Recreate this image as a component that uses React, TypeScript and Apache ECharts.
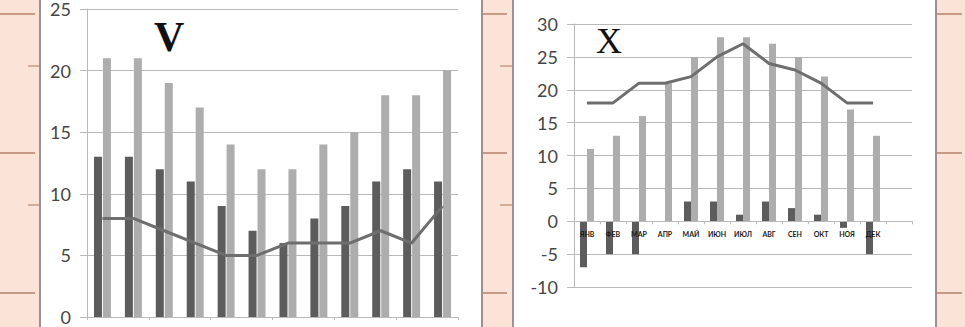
import React, { useEffect, useRef } from "react";
import * as echarts from "echarts";

const months = ["ЯНВ", "ФЕВ", "МАР", "АПР", "МАЙ", "ИЮН", "ИЮЛ", "АВГ", "СЕН", "ОКТ", "НОЯ", "ДЕК"];
const monthsX = [...months, ""];

const vDark = [13, 13, 12, 11, 9, 7, 6, 8, 9, 11, 12, 11];
const vLight = [21, 21, 19, 17, 14, 12, 12, 14, 15, 18, 18, 20];
const vLine = [8, 8, 7, 6, 5, 5, 6, 6, 6, 7, 6, 9];

const xDark = [-7, -5, -5, 0, 3, 3, 1, 3, 2, 1, -1, -5];
const xLight = [11, 13, 16, 21, 25, 28, 28, 27, 25, 22, 17, 13];
const xLine = [18, 18, 21, 21, 22, 25, 27, 24, 23, 21, 18, 18];

const DARK = "#5c5c5c";
const LIGHT = "#adadad";
const LINE = "#6e6e6e";
const GRID = "#b9b9b9";
const LABEL = "#454545";
const PINK = "#fce3d7";
const BORDER = "#9c9090";
const MARK = "#c79a86";

export default function App() {
  const ref = useRef<HTMLDivElement>(null);
  useEffect(() => {
    if (!ref.current) return;
    const chart = echarts.init(ref.current, null, { renderer: "svg" });

    const marks: any[] = [];
    const longY = [14, 153, 293];
    const shortY = [66, 205];
    longY.forEach((y) => {
      marks.push({ type: "line", z: -5, shape: { x1: 0, y1: y, x2: 35, y2: y }, style: { stroke: MARK, lineWidth: 2 } });
      marks.push({ type: "line", z: -5, shape: { x1: 482, y1: y, x2: 507, y2: y }, style: { stroke: MARK, lineWidth: 2 } });
      marks.push({ type: "line", z: -5, shape: { x1: 937, y1: y, x2: 962, y2: y }, style: { stroke: MARK, lineWidth: 2 } });
    });
    shortY.forEach((y) => {
      marks.push({ type: "line", z: -5, shape: { x1: 28, y1: y, x2: 40, y2: y }, style: { stroke: MARK, lineWidth: 1.5 } });
      marks.push({ type: "line", z: -5, shape: { x1: 500, y1: y, x2: 513, y2: y }, style: { stroke: MARK, lineWidth: 1.5 } });
    });

    const valueAxisCommon = {
      type: "value",
      interval: 5,
      axisLine: { show: true, lineStyle: { color: GRID, width: 1 } },
      axisTick: { show: true, length: 7, lineStyle: { color: GRID } },
      splitLine: { show: true, lineStyle: { color: GRID, width: 1 } },
      axisLabel: { fontFamily: "Lato, 'Open Sans', sans-serif", fontSize: 18, color: LABEL, margin: 16 },
    };

    // right grid geometry: top 24, bottom 40 -> plot height 263; zero sits 30/40 down
    const rTop = 24;
    const rBottom = 40;
    const rHeight = 327 - rTop - rBottom;
    const zeroOffset = -(rHeight * 10) / 40;

    chart.setOption({
      animation: false,
      backgroundColor: PINK,
      graphic: [
        { type: "rect", z: -10, shape: { x: 40, y: 0, width: 442, height: 327 }, style: { fill: "#ffffff" } },
        { type: "rect", z: -10, shape: { x: 514, y: 0, width: 422, height: 327 }, style: { fill: "#ffffff" } },
        { type: "line", z: -4, shape: { x1: 40, y1: 0, x2: 40, y2: 327 }, style: { stroke: BORDER, lineWidth: 2 } },
        { type: "line", z: -4, shape: { x1: 482, y1: 0, x2: 482, y2: 327 }, style: { stroke: BORDER, lineWidth: 2 } },
        { type: "line", z: -4, shape: { x1: 513, y1: 0, x2: 513, y2: 327 }, style: { stroke: BORDER, lineWidth: 2 } },
        { type: "line", z: -4, shape: { x1: 936, y1: 0, x2: 936, y2: 327 }, style: { stroke: BORDER, lineWidth: 2 } },
        ...marks,
        {
          type: "text",
          z: 100,
          x: 154,
          y: 16,
          style: { text: "V", font: "bold 42px 'Liberation Serif', serif", fill: "#111" },
        },
        {
          type: "text",
          z: 100,
          x: 596,
          y: 23,
          style: { text: "X", font: "36px 'Liberation Serif', serif", fill: "#111" },
        },
      ],
      grid: [
        { left: 87, right: 507, top: 9, bottom: 10 },
        { left: 574, right: 53, top: rTop, bottom: rBottom },
      ],
      xAxis: [
        {
          type: "category",
          gridIndex: 0,
          data: months,
          axisLine: { show: true, lineStyle: { color: GRID } },
          axisTick: { show: true, length: 3, lineStyle: { color: GRID } },
          axisLabel: { show: false },
        },
        {
          type: "category",
          gridIndex: 1,
          data: monthsX,
          z: 10,
          offset: zeroOffset,
          axisLine: { show: true, onZero: false, lineStyle: { color: GRID } },
          axisTick: { show: true, length: 3, lineStyle: { color: GRID } },
          axisLabel: { fontFamily: "Lato, sans-serif", fontSize: 7, fontWeight: "bold", color: "#1a1a1a", margin: 9, interval: 0 },
        },
      ],
      yAxis: [
        { ...valueAxisCommon, gridIndex: 0, min: 0, max: 25 },
        { ...valueAxisCommon, gridIndex: 1, min: -10, max: 30 },
      ],
      series: [
        { type: "bar", xAxisIndex: 0, yAxisIndex: 0, data: vDark, barWidth: 8, barGap: "12%", itemStyle: { color: DARK } },
        { type: "bar", xAxisIndex: 0, yAxisIndex: 0, data: vLight, barWidth: 8, barGap: "12%", itemStyle: { color: LIGHT } },
        {
          type: "line",
          xAxisIndex: 0,
          yAxisIndex: 0,
          data: vLine,
          symbol: "none",
          lineStyle: { color: LINE, width: 3 },
          z: 5,
        },
        { type: "bar", xAxisIndex: 1, yAxisIndex: 1, data: xDark, barWidth: 7, barGap: "0%", itemStyle: { color: DARK } },
        { type: "bar", xAxisIndex: 1, yAxisIndex: 1, data: xLight, barWidth: 7, barGap: "0%", itemStyle: { color: LIGHT } },
        {
          type: "line",
          xAxisIndex: 1,
          yAxisIndex: 1,
          data: xLine,
          symbol: "none",
          lineStyle: { color: LINE, width: 3 },
          z: 5,
        },
      ],
    });
    return () => chart.dispose();
  }, []);
  return <div ref={ref} style={{ position: "absolute", left: 0, top: 0, width: 965, height: 327 }} />;
}
